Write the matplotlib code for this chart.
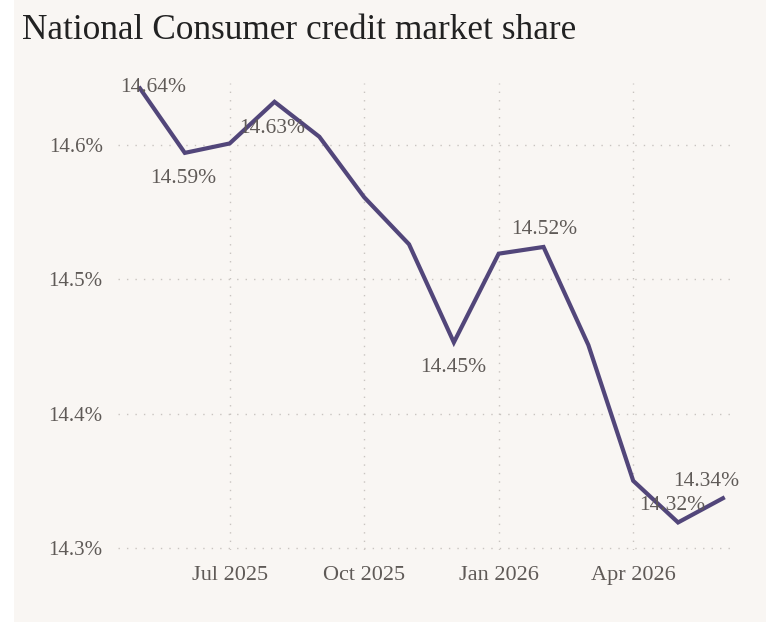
import matplotlib
matplotlib.use("Agg")
import matplotlib.pyplot as plt
from matplotlib.patches import Rectangle

months = ["May 2025", "Jun 2025", "Jul 2025", "Aug 2025", "Sep 2025", "Oct 2025", "Nov 2025",
          "Dec 2025", "Jan 2026", "Feb 2026", "Mar 2026", "Apr 2026", "May 2026", "Jun 2026"]
share = [14.642, 14.594, 14.601, 14.632, 14.606, 14.561, 14.526,
         14.453, 14.519, 14.524, 14.451, 14.350, 14.319, 14.337]
tick_idx = [2, 5, 8, 11]
tick_labels = ["Jul 2025", "Oct 2025", "Jan 2026", "Apr 2026"]
y_ticks = [14.3, 14.4, 14.5, 14.6]
y_tick_labels = ["14.3%", "14.4%", "14.5%", "14.6%"]
# labelled points: (index, offset x px, offset y px)
label_pts = [(0, 13, 1), (1, -2, -26), (3, -2, -27), (7, -1, -25),
             (9, 1, 17), (12, -6, 17), (13, -17, 17)]

W, H = 766, 622
fig = plt.figure(figsize=(W / 100, H / 100), dpi=100, facecolor="white")
bg = "#f9f6f3"
fig.patches.append(Rectangle((14 / W, 0), 1 - 14 / W, 1, transform=fig.transFigure,
                             facecolor=bg, edgecolor="none", zorder=-10))

ax = fig.add_axes([118 / W, 1 - 550 / H, (735 - 118) / W, (550 - 83) / H])
ax.set_facecolor(bg)
ax.patch.set_alpha(0)

x = list(range(len(share)))
ax.plot(x, share, color="#52467a", lw=3.0, solid_joinstyle="miter", zorder=3)

ax.set_xlim(-0.49, len(share) - 1 + 0.27)
ax.set_ylim(14.2985, 14.646)
ax.set_xticks(tick_idx)
ax.set_xticklabels(tick_labels)
ax.set_yticks(y_ticks)
ax.set_yticklabels(y_tick_labels)

serif = ["Liberation Serif", "DejaVu Serif"]
txt_color = "#5f5a57"
for lab in ax.get_xticklabels():
    lab.set_fontfamily(serif)
    lab.set_fontsize(16)
    lab.set_color(txt_color)
for lab in ax.get_yticklabels():
    lab.set_fontfamily(serif)
    lab.set_fontsize(15)
    lab.set_color(txt_color)
ax.tick_params(axis="x", length=0, pad=11.5)
ax.tick_params(axis="y", length=0, pad=11)
for s in ax.spines.values():
    s.set_visible(False)
ax.grid(True, color="#c9c4c0", linestyle=(0, (1, 5.1)), lw=1.0)
ax.set_axisbelow(True)

for i, dx, dy in label_pts:
    ax.annotate(f"{share[i]:.2f}%", (x[i], share[i]), xytext=(dx * 0.72, dy * 0.72),
                textcoords="offset points", ha="center", va="center",
                fontsize=15.5, color=txt_color, family=serif, zorder=4)

fig.text(22 / W, 1 - 39 / H, "National Consumer credit market share", fontsize=25.4,
         family=serif, color="#222222", ha="left", va="baseline")

fig.savefig("out.png", dpi=100, facecolor=fig.get_facecolor())
